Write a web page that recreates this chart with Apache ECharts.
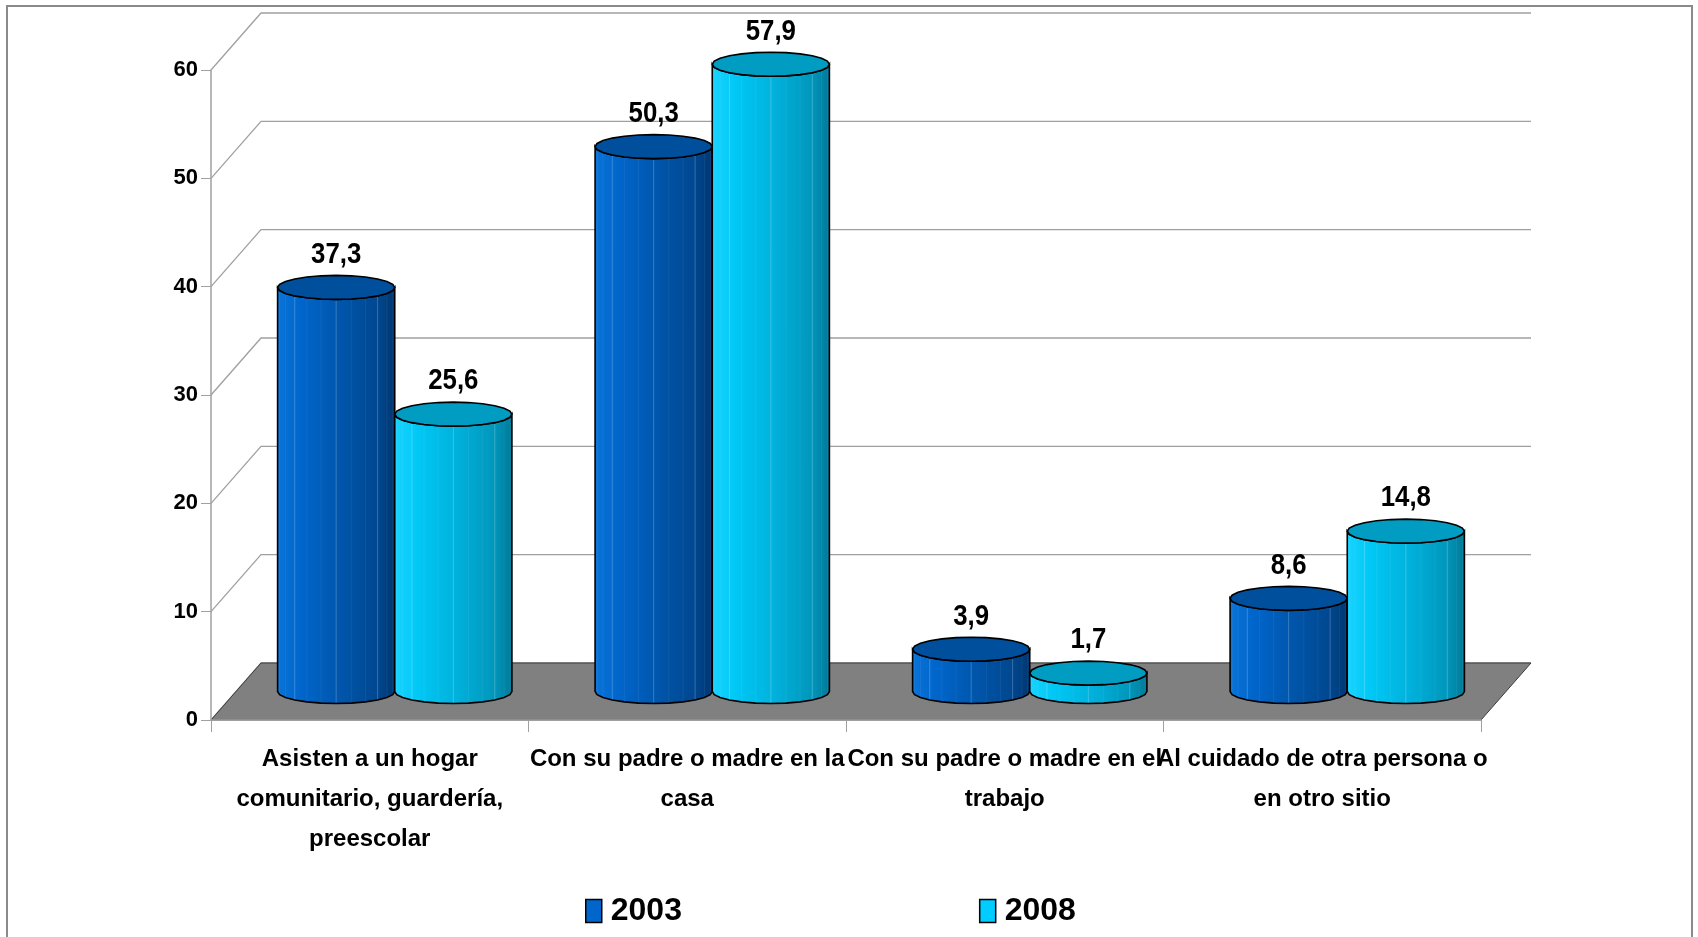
<!DOCTYPE html>
<html>
<head>
<meta charset="utf-8">
<script src="https://cdn.jsdelivr.net/npm/echarts@6/dist/echarts.min.js"></script>
<style>
  html, body { margin: 0; padding: 0; background: #ffffff; }
  #chart { width: 1698px; height: 937px; }
</style>
</head>
<body>
<div id="chart"></div>
<script>
// ---- data ----
const categories = [
  'Asisten a un hogar\ncomunitario, guardería,\npreescolar',
  'Con su padre o madre en la\ncasa',
  'Con su padre o madre en el\ntrabajo',
  'Al cuidado de otra persona o\nen otro sitio'
];
const years = ['2003', '2008'];
const values2003 = [37.3, 50.3, 3.9, 8.6];
const values2008 = [25.6, 57.9, 1.7, 14.8];
const yTicks = [0, 10, 20, 30, 40, 50, 60];

// ---- look ----
const FONT = "'Liberation Sans', Arial, sans-serif";
const DEPTH_X = 50;      // receding offset of the back wall
const DEPTH_Y = -57;
const BAR_RATIO = 0.369; // cylinder width as a share of the category band
const CAP_RY = 12;       // vertical radius of the cylinder ends
const FACETS = 24;

const palettes = [
  {
    legend: '#0066cc',
    top: '#004f9c',
    side: [
      { offset: 0, color: '#0a74d8' },
      { offset: 0.2, color: '#0066cc' },
      { offset: 0.55, color: '#0055aa' },
      { offset: 0.85, color: '#00478f' },
      { offset: 1, color: '#003670' }
    ]
  },
  {
    legend: '#00ccff',
    top: '#009cc2',
    side: [
      { offset: 0, color: '#1ad4ff' },
      { offset: 0.2, color: '#00c8f6' },
      { offset: 0.55, color: '#00b0da' },
      { offset: 0.85, color: '#0096bb' },
      { offset: 1, color: '#007896' }
    ]
  }
];

function formatValue(v) {
  return String(v).replace('.', ',');
}

function cylinderRenderer(seriesIndex) {
  const pal = palettes[seriesIndex];
  return function (params, api) {
    const i = api.value(0);
    const v = api.value(1);
    const base = api.coord([i, 0]);
    const top = api.coord([i, v]);
    const band = api.size([1, 0])[0];
    const rx = band * BAR_RATIO / 2;
    const ry = CAP_RY;
    const cx = base[0] + DEPTH_X / 2 + (seriesIndex === 0 ? -rx : rx);
    const yb = base[1] + DEPTH_Y / 2;
    const yt = top[1] + DEPTH_Y / 2;

    const angles = [];
    for (let k = 0; k <= FACETS; k++) angles.push(2 * Math.PI * k / FACETS);
    const half = FACETS / 2;

    // body outline: left side, front of bottom rim, right side, front of top rim
    const body = [];
    body.push([cx - rx, yt]);
    for (let k = half; k >= 0; k--) {
      const a = angles[k];
      body.push([cx + rx * Math.cos(a), yb + ry * Math.sin(a)]);
    }
    for (let k = 0; k <= half; k++) {
      const a = angles[k];
      body.push([cx + rx * Math.cos(a), yt + ry * Math.sin(a)]);
    }

    const cap = [];
    for (let k = 0; k < FACETS; k++) {
      const a = angles[k];
      cap.push([cx + rx * Math.cos(a), yt + ry * Math.sin(a)]);
    }

    const children = [{
      type: 'polygon',
      shape: { points: body },
      style: {
        fill: new echarts.graphic.LinearGradient(0, 0, 1, 0, pal.side),
        stroke: '#000',
        lineWidth: 1.6
      }
    }];

    // faint facet edges on the side
    for (let k = 1; k < half; k++) {
      const a = angles[k];
      const x = cx + rx * Math.cos(a);
      children.push({
        type: 'line',
        shape: { x1: x, y1: yt + ry * Math.sin(a) + 1, x2: x, y2: yb + ry * Math.sin(a) - 1 },
        style: { stroke: 'rgba(255,255,255,' + (k % 3 === 0 ? 0.22 : 0.06) + ')', lineWidth: 1 }
      });
    }

    children.push({
      type: 'polygon',
      shape: { points: cap },
      style: { fill: pal.top, stroke: '#000', lineWidth: 1.6 }
    });

    // value label, slightly condensed
    children.push({
      type: 'text',
      x: cx,
      y: yt - ry - 21,
      scaleX: 0.86,
      style: {
        x: 0,
        y: 0,
        text: formatValue(v),
        fill: '#000',
        font: 'bold 30px ' + FONT,
        align: 'center',
        verticalAlign: 'middle'
      }
    });

    return { type: 'group', children: children };
  };
}

const chart = echarts.init(document.getElementById('chart'), null, { renderer: 'canvas' });

const option = {
  animation: false,
  backgroundColor: '#ffffff',
  graphic: [{
    type: 'rect',
    shape: { x: 7, y: 6, width: 1685, height: 945 },
    style: { fill: 'none', stroke: '#8a8a8a', lineWidth: 2 },
    z: 100
  }],
  grid: { left: 211, right: 217, top: 70, bottom: 217, containLabel: false },
  legend: {
    data: years,
    left: 580,
    top: 890,
    itemGap: 297,
    itemWidth: 16,
    itemHeight: 23,
    icon: 'rect',
    itemStyle: { borderColor: '#000', borderWidth: 1.5 },
    textStyle: { fontSize: 32, fontWeight: 'bold', color: '#000', fontFamily: FONT, padding: [0, 0, 0, 4] }
  },
  xAxis: {
    type: 'category',
    data: categories,
    z: 5,
    axisLine: { show: true, lineStyle: { color: '#a0a0a0', width: 1.5 } },
    axisTick: { show: true, interval: 0, length: 12, lineStyle: { color: '#a0a0a0' } },
    axisLabel: {
      interval: 0,
      margin: 19,
      fontSize: 24,
      lineHeight: 40,
      fontWeight: 'bold',
      color: '#000',
      fontFamily: FONT
    },
    splitLine: { show: false }
  },
  yAxis: {
    type: 'value',
    min: 0,
    max: 60,
    interval: 10,
    z: 5,
    axisLine: { show: true, lineStyle: { color: '#a0a0a0', width: 1.5 } },
    axisTick: { show: true, length: 10, lineStyle: { color: '#a0a0a0' } },
    axisLabel: { margin: 13, fontSize: 22, fontWeight: 'bold', color: '#000', fontFamily: FONT },
    splitLine: { show: false }
  },
  series: [
    {
      name: 'walls',
      type: 'custom',
      clip: false,
      z: 1,
      silent: true,
      data: yTicks.map(t => [0, t]),
      renderItem: function (params, api) {
        const cs = params.coordSys;
        const y = api.coord([0, api.value(1)])[1];
        return {
          type: 'polyline',
          shape: { points: [[cs.x, y], [cs.x + DEPTH_X, y + DEPTH_Y], [cs.x + cs.width + DEPTH_X, y + DEPTH_Y]] },
          style: { stroke: '#a0a0a0', lineWidth: 1.3, fill: null }
        };
      }
    },
    {
      name: 'floor',
      type: 'custom',
      clip: false,
      z: 2,
      silent: true,
      data: [[0, 0]],
      renderItem: function (params, api) {
        const cs = params.coordSys;
        const y = api.coord([0, 0])[1];
        return {
          type: 'polygon',
          shape: {
            points: [
              [cs.x, y], [cs.x + cs.width, y],
              [cs.x + cs.width + DEPTH_X, y + DEPTH_Y], [cs.x + DEPTH_X, y + DEPTH_Y]
            ]
          },
          style: { fill: '#808080', stroke: '#3c3c3c', lineWidth: 1 }
        };
      }
    },
    {
      name: years[0],
      type: 'custom',
      clip: false,
      z: 3,
      itemStyle: { color: palettes[0].legend },
      data: values2003.map((v, i) => [i, v]),
      renderItem: cylinderRenderer(0)
    },
    {
      name: years[1],
      type: 'custom',
      clip: false,
      z: 3,
      itemStyle: { color: palettes[1].legend },
      data: values2008.map((v, i) => [i, v]),
      renderItem: cylinderRenderer(1)
    }
  ]
};

chart.setOption(option);
</script>
</body>
</html>
